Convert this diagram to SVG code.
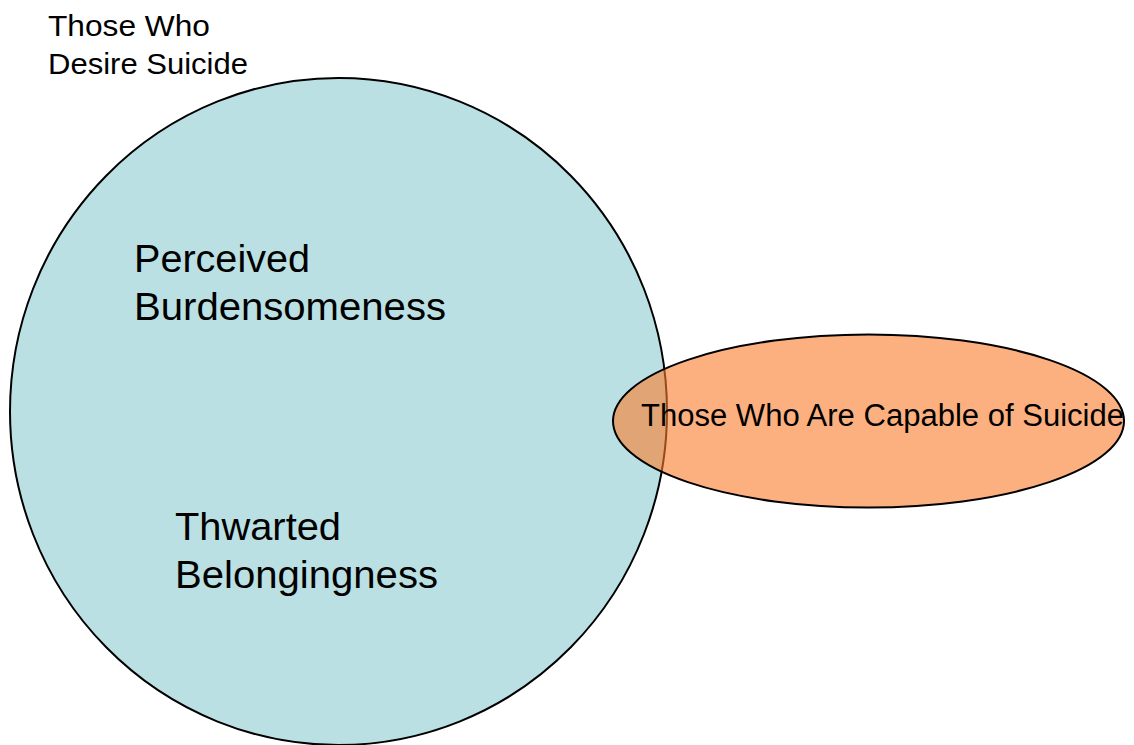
<svg xmlns="http://www.w3.org/2000/svg" width="1134" height="745" viewBox="0 0 1134 745">
<style>
text{font-family:"Liberation Sans",Arial,sans-serif;fill:#000}
.shape{stroke:#000;stroke-width:2}
</style>
<rect width="1134" height="745" fill="#fff"/>
<g id="desire">
<ellipse class="shape" cx="338.5" cy="411.5" rx="328.5" ry="333.5" fill="#BAE0E3"/>
<text x="48" y="36" font-size="30" textLength="162" lengthAdjust="spacingAndGlyphs">Those Who</text>
<text x="48" y="74" font-size="30" textLength="200" lengthAdjust="spacingAndGlyphs">Desire Suicide</text>
</g>
<g id="burden">
<text x="134" y="272" font-size="39" textLength="176" lengthAdjust="spacingAndGlyphs">Perceived</text>
<text x="134" y="320" font-size="39" textLength="312" lengthAdjust="spacingAndGlyphs">Burdensomeness</text>
</g>
<g id="belong">
<text x="175" y="540" font-size="39" textLength="166" lengthAdjust="spacingAndGlyphs">Thwarted</text>
<text x="175" y="588" font-size="39" textLength="263" lengthAdjust="spacingAndGlyphs">Belongingness</text>
</g>
<g id="capable">
<ellipse class="shape" cx="868.5" cy="421" rx="255.5" ry="86.5" fill="#FC7B2A" fill-opacity="0.6"/>
<text x="641" y="426" font-size="31" textLength="483" lengthAdjust="spacingAndGlyphs">Those Who Are Capable of Suicide</text>
</g>
<g id="connectors"/>
</svg>
